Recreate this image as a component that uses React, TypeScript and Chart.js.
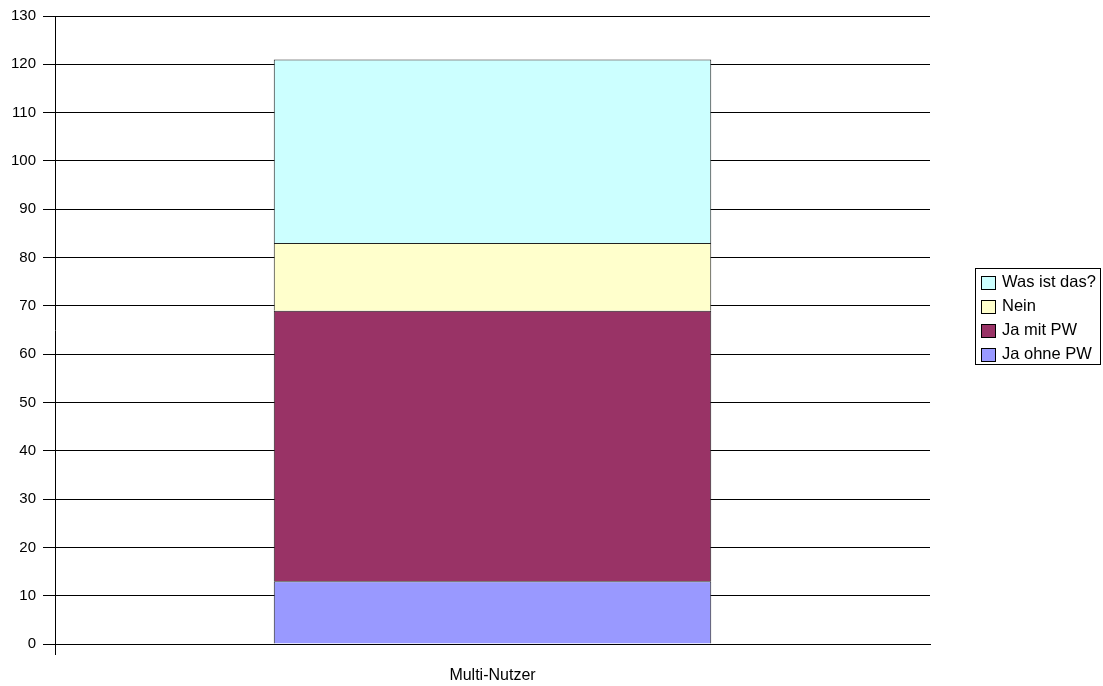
import React, { useEffect, useRef } from "react";
import { Chart, registerables } from "chart.js";

Chart.register(...registerables);

const categories = ["Multi-Nutzer"];
const seriesLabels = ["Ja ohne PW", "Ja mit PW", "Nein", "Was ist das?"];
const seriesValues = [[13], [56], [14], [38]];
const seriesColors = ["#9999FF", "#993366", "#FFFFCC", "#CCFFFF"];
const yTicks = [0, 10, 20, 30, 40, 50, 60, 70, 80, 90, 100, 110, 120, 130];

const FONT = "Arial, 'Liberation Sans', sans-serif";

// Boxed legend on the right, listed top-down in reverse stacking order
const boxedLegend = {
  id: "boxedLegend",
  afterDraw(chart: any) {
    const ctx = chart.ctx;
    const x0 = 975;
    const y0 = 268;
    const w = 125;
    const rowH = 24;
    const h = rowH * seriesLabels.length;
    ctx.save();
    ctx.fillStyle = "#fff";
    ctx.fillRect(x0, y0, w, h);
    ctx.strokeStyle = "#000";
    ctx.lineWidth = 1;
    ctx.strokeRect(x0 + 0.5, y0 + 0.5, w, h);
    ctx.font = `16.5px ${FONT}`;
    ctx.textBaseline = "middle";
    ctx.textAlign = "left";
    const order = seriesLabels.map((_, i) => i).reverse();
    order.forEach((idx, row) => {
      const cy = y0 + 14 + row * rowH;
      ctx.fillStyle = seriesColors[idx];
      ctx.fillRect(x0 + 6, cy - 6, 14, 13);
      ctx.strokeStyle = "#000";
      ctx.strokeRect(x0 + 6.5, cy - 5.5, 14, 13);
      ctx.fillStyle = "#000";
      ctx.fillText(seriesLabels[idx], x0 + 27, cy);
    });
    // small tick below the x axis at its left end
    const area = chart.chartArea;
    ctx.beginPath();
    ctx.moveTo(Math.round(area.left) + 0.5, area.bottom);
    ctx.lineTo(Math.round(area.left) + 0.5, area.bottom + 11);
    ctx.strokeStyle = "#000";
    ctx.stroke();
    ctx.restore();
  },
};

export default function App() {
  const ref = useRef<HTMLCanvasElement | null>(null);

  useEffect(() => {
    if (!ref.current) return;
    const chart = new Chart(ref.current, {
      type: "bar",
      data: {
        labels: categories,
        datasets: seriesLabels.map((label, i) => ({
          label,
          data: seriesValues[i],
          backgroundColor: seriesColors[i],
          borderColor: "#222",
          borderWidth: 1,
          barPercentage: 1,
          categoryPercentage: 0.5,
        })),
      },
      options: {
        animation: false,
        responsive: false,
        maintainAspectRatio: false,
        layout: { padding: { top: 15, right: 173, left: 0, bottom: 0 } },
        plugins: {
          legend: { display: false },
          tooltip: { enabled: false },
        },
        scales: {
          x: {
            stacked: true,
            grid: { display: false },
            border: { display: true, color: "#000", width: 1 },
            ticks: {
              color: "#000",
              font: { family: FONT, size: 16 },
              padding: 14,
            },
            afterFit: (s: any) => {
              s.height = 42;
            },
          },
          y: {
            stacked: true,
            min: 0,
            max: 130,
            afterBuildTicks: (s: any) => {
              s.ticks = yTicks.map((v) => ({ value: v }));
            },
            grid: { color: "#000", lineWidth: 1, tickLength: 12 },
            border: { display: true, color: "#000", width: 1 },
            ticks: {
              color: "#000",
              font: { family: FONT, size: 15 },
              padding: 7,
            },
            afterFit: (s: any) => {
              s.width = 55;
            },
          },
        },
      },
      plugins: [boxedLegend],
    });
    return () => chart.destroy();
  }, []);

  return (
    <div style={{ position: "fixed", left: 0, top: 0, width: 1103, height: 686, background: "#fff" }}>
      <canvas ref={ref} width={1103} height={686} style={{ display: "block" }} />
    </div>
  );
}
